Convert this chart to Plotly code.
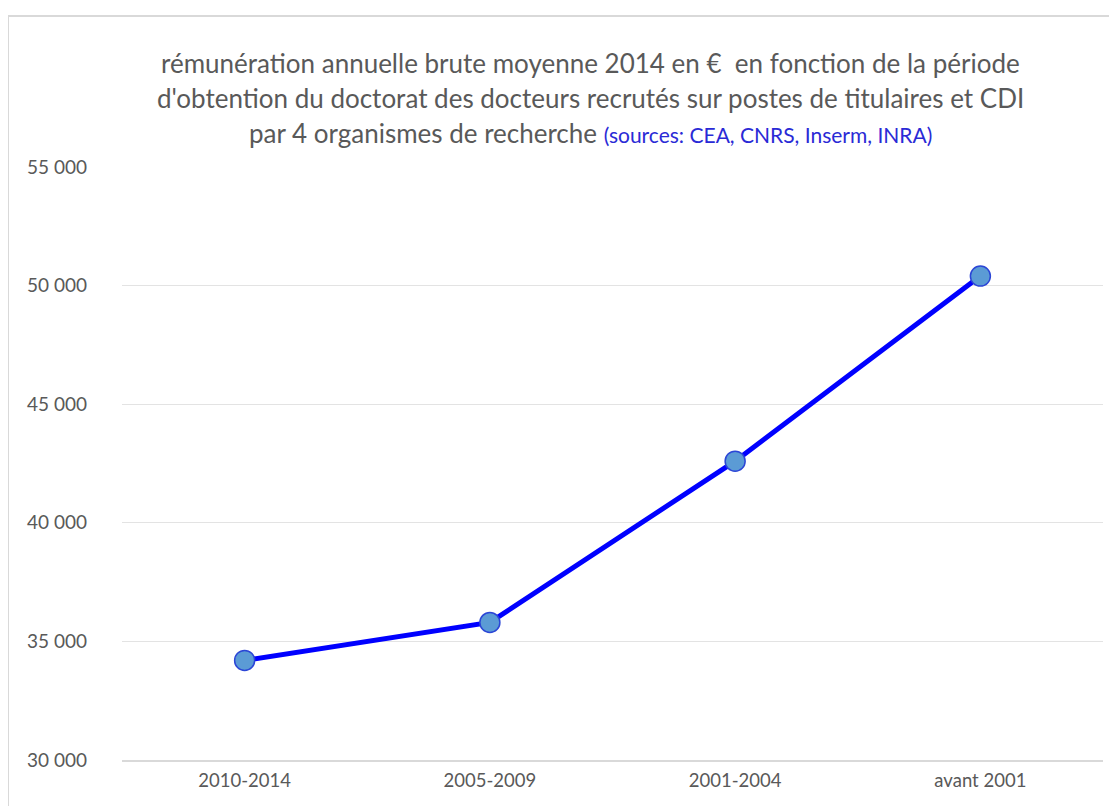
import plotly.graph_objects as go

categories = ["2010-2014", "2005-2009", "2001-2004", "avant 2001"]
salaires = [34200, 35800, 42600, 50400]
y_ticks = [30000, 35000, 40000, 45000, 50000, 55000]

FONT = "Lato, 'Open Sans', sans-serif"
GRAY = "#595959"

# page body adds an 8px offset; figure is sized so that it ends at the window edge
OFF = 8
W, H = 1117 - OFF, 806 - OFF
L, R, T, B = 114, 14, 159, 46
pw, ph = W - L - R, H - T - B

def px_x(p):
    return (p - OFF - L) / pw

def px_y(p):
    return (H - B - (p - OFF)) / ph

fig = go.Figure()
fig.add_trace(go.Scatter(
    x=categories, y=salaires, mode="lines+markers",
    line=dict(color="#0000FF", width=5),
    marker=dict(size=20, color="#5B9BD5", line=dict(color="#2b46d6", width=1.5)),
    showlegend=False,
))

title_lines = [
    "rémunération annuelle brute moyenne 2014 en €  en fonction de la période",
    "d'obtention du doctorat des docteurs recrutés sur postes de titulaires et CDI",
    "par 4 organismes de recherche <span style='color:#2a2ad6;font-size:21px'>(sources: CEA, CNRS, Inserm, INRA)</span>",
]
title_y = [63, 98, 133]
for txt, yy in zip(title_lines, title_y):
    fig.add_annotation(text=txt, xref="paper", yref="paper", x=px_x(590), y=px_y(yy),
                       xanchor="center", yanchor="middle", showarrow=False,
                       font=dict(family=FONT, size=26, color=GRAY))

fig.add_shape(type="rect", xref="paper", yref="paper",
              x0=px_x(8), x1=px_x(1140), y0=px_y(16), y1=px_y(840),
              line=dict(color="#d9d9d9", width=2), fillcolor="rgba(0,0,0,0)", layer="below")

fig.update_layout(
    width=W, height=H,
    margin=dict(l=L, r=R, t=T, b=B),
    paper_bgcolor="white", plot_bgcolor="white",
    separators=", ",
    font=dict(family=FONT, color=GRAY),
    xaxis=dict(
        type="category", showgrid=False, zeroline=False,
        showline=True, linecolor="#d9d9d9", linewidth=2,
        ticks="", tickfont=dict(size=18.5, color=GRAY, family=FONT),
        ticklabelstandoff=3,
        range=[-0.5, 3.5],
    ),
    yaxis=dict(
        range=[30000, 55000], tickvals=y_ticks,
        tickformat=",d", showgrid=True, gridcolor="#e3e3e3", gridwidth=1,
        zeroline=False, showline=False, ticks="",
        tickfont=dict(size=19, color=GRAY, family=FONT),
        ticklabelstandoff=34,
    ),
)

fig.write_html("out.html")
